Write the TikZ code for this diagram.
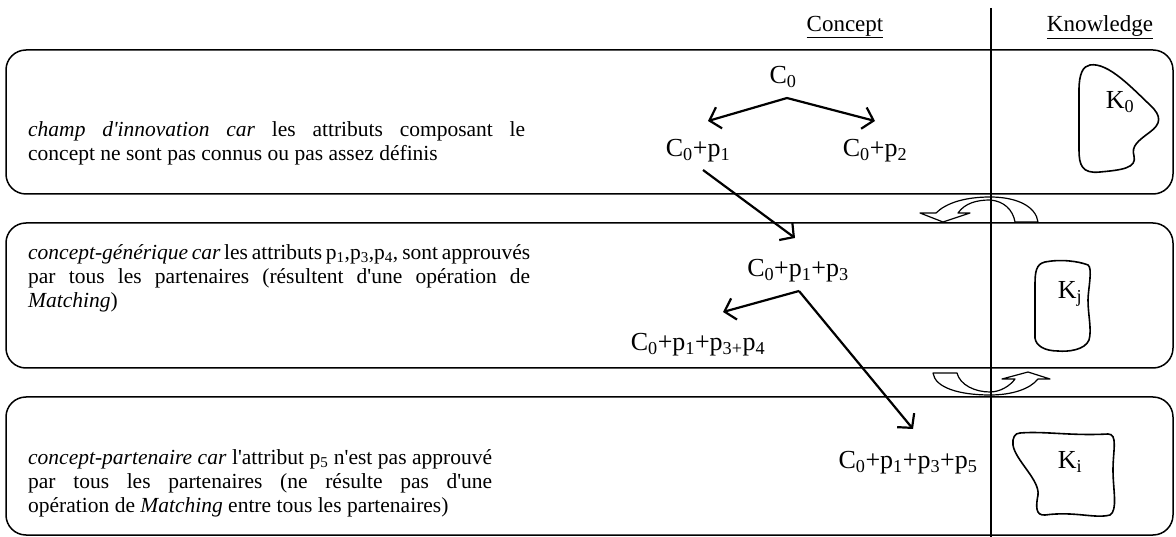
\documentclass[tikz,border=0pt]{standalone}
\usepackage{fontspec}
\setmainfont{Liberation Serif}
\usetikzlibrary{arrows.meta}

\newcommand{\cz}{C\textsubscript{0}}
\newcommand{\ps}[1]{p\textsubscript{#1}}
\newcommand{\ap}{\textquotesingle}

\tikzset{
	stage/.style={draw, line width=1.5pt, rounded corners=20pt},
	remark/.style={anchor=north west, inner sep=0pt, align=justify, font=\fontsize{21.5}{24}\selectfont},
	concept/.style={inner sep=1pt, font=\fontsize{26}{28}\selectfont},
	heading/.style={inner sep=1pt, font=\fontsize{23}{26}\selectfont},
	arr/.style={-{Straight Barb[length=10pt,width=22pt]}, line width=2.2pt},
	blob/.style={line width=1.6pt},
	swap/.style={line width=1.2pt, line join=round},
}

\begin{document}
\begin{tikzpicture}[x=1pt, y=-1pt]
					\useasboundingbox (0,0) rectangle (1176,537);
					% Define coordinates
					\coordinate (F0) at (787,98);
					\coordinate (F1) at (708,121);
					\coordinate (F2) at (875,121);
					\coordinate (S0) at (703,170);
					\coordinate (S1) at (795,238);
					\coordinate (G0) at (799,291);
					\coordinate (G1) at (723,312);
					\coordinate (G2) at (913,429);
					
					% Stages
					\draw[stage] (6,50) rectangle (1173,194);
					\draw[stage] (6,223) rectangle (1173,368);
					\draw[stage] (6,397) rectangle (1173,535);
					
					% Swap arrows between stages
					\draw[swap] (958,213) .. controls (965,203) and (977,200) .. (990,200) .. controls (1004,201) and (1013,210) .. (1015,222) -- (1038,222) .. controls (1036,207) and (1018,197) .. (990,197) .. controls (965,197) and (946,203) .. (936,213) -- (920,213) -- (943,222) -- (970,213) -- cycle;
					\draw[swap] (933,373) -- (957,373) .. controls (960,385) and (975,392) .. (990,392) .. controls (1000,392) and (1010,386) .. (1015,379) -- (1002,379) -- (1028,372) -- (1050,379) -- (1038,379) .. controls (1030,389) and (1012,395) .. (990,395) .. controls (960,395) and (935,388) .. (933,373) -- cycle;
					
					\draw[line width=1.5pt] (991,8) -- (991,537);
					
					\node[heading] (concept) at (845,27) {\underline{Concept}};
					\node[heading] (knowledge) at (1100,27) {\underline{Knowledge}};
					
					% Remarks
					\node[remark, text width=497pt] (r0) at (28,121) {\textit{champ d\ap innovation car} les attributs composant le\linebreak concept ne sont pas connus ou pas assez définis};
					\node[remark, text width=502pt] (r1) at (28,244) {\textit{concept-générique car} les attributs \ps{1},\ps{3},\ps{4}, sont approuvés\linebreak par tous les partenaires (résultent d\ap une opération de\linebreak \textit{Matching})};
					\node[remark, text width=464pt] (r2) at (28,449) {\textit{concept-partenaire car} l\ap attribut \ps{5} n\ap est pas approuvé\linebreak par tous les partenaires (ne résulte pas d\ap une\linebreak opération de \textit{Matching} entre tous les partenaires)};
					
					% Concepts
					\node[concept] (c0) at (783,77) {\cz};
					\node[concept] (c0p1) at (698,151) {\cz+\ps{1}};
					\node[concept] (c0p2) at (875,151) {\cz+\ps{2}};
					\node[concept] (c0p1p3) at (798,271) {\cz+\ps{1}+\ps{3}};
					\node[concept] (c0p1p3p4) at (698,345) {\cz+\ps{1}+p\textsubscript{3+}\ps{4}};
					\node[concept] (c0p1p3p5) at (908,463) {\cz+\ps{1}+\ps{3}+\ps{5}};
					
					\draw[arr] (F0) -- (F1);
					\draw[arr] (F0) -- (F2);
					\draw[arr] (S0) -- (S1);
					\draw[arr] (G0) -- (G1);
					\draw[arr] (G0) -- (G2);
					
					% Knowledge
					\draw[blob] (1090,65) .. controls (1108,62) and (1132,88) .. (1150,105) .. controls (1162,116) and (1161,124) .. (1150,132) .. controls (1138,141) and (1131,146) .. (1134,156) .. controls (1137,168) and (1122,170) .. (1100,172) .. controls (1082,174) and (1079,165) .. (1079,150) -- (1079,90) .. controls (1079,74) and (1083,66) .. (1090,65) -- cycle;
					\draw[blob] (1045,262) .. controls (1060,259) and (1078,261) .. (1088,265) .. controls (1093,268) and (1088,290) .. (1088,300) .. controls (1088,315) and (1092,330) .. (1089,340) .. controls (1085,350) and (1068,352) .. (1058,351) .. controls (1045,351) and (1036,346) .. (1035,338) -- (1035,285) .. controls (1035,272) and (1036,264) .. (1045,262) -- cycle;
					\draw[blob] (1020,433) .. controls (1045,431) and (1070,436) .. (1108,434) .. controls (1118,434) and (1113,450) .. (1113,470) .. controls (1113,490) and (1118,510) .. (1110,515) .. controls (1095,519) and (1075,511) .. (1045,515) .. controls (1035,516) and (1036,505) .. (1038,495) .. controls (1040,480) and (1015,460) .. (1013,445) .. controls (1012,438) and (1015,433) .. (1020,433) -- cycle;
					\node[concept] (k0) at (1120,102) {K\textsubscript{0}};
					\node[concept] (kj) at (1070,294) {K\textsubscript{j}};
					\node[concept] (ki) at (1070,462) {K\textsubscript{i}};
				\end{tikzpicture}
\end{document}
